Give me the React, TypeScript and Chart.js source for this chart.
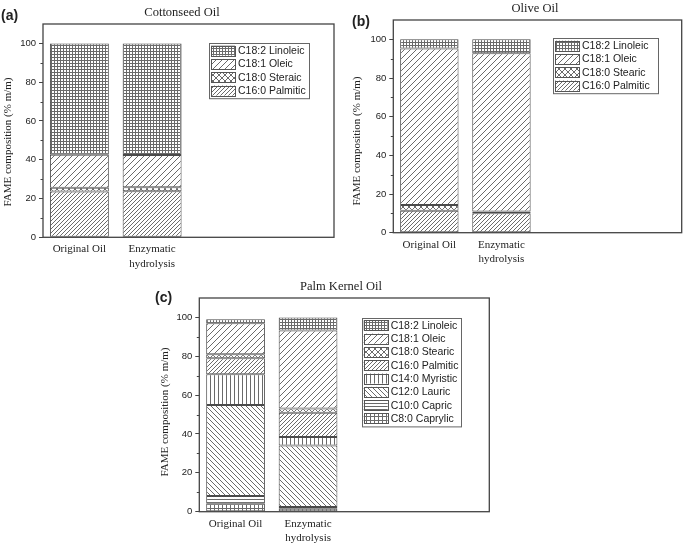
import React, { useEffect, useRef } from 'react';
import { Chart, registerables } from 'chart.js';
Chart.register(...registerables);

// ---------- data ----------
const categories: (string | string[])[] = ['Original Oil', ['Enzymatic', 'hydrolysis'], '', ''];
const yTicks = [0, 20, 40, 60, 80, 100];
const yMinorTicks = [10, 30, 50, 70, 90];

// (a) Cottonseed Oil
const cottonPalmitic = [23.6, 23.8];
const cottonStearic = [2.0, 2.0];
const cottonOleic = [17.0, 16.7];
const cottonLinoleic = [57.4, 57.5];

// (b) Olive Oil
const olivePalmitic = [11.4, 10.0];
const oliveStearic = [2.9, 1.0];
const oliveOleic = [81.0, 81.8];
const oliveLinoleic = [4.7, 7.2];

// (c) Palm Kernel Oil
const pkCaprylic = [4.3, 1.5];
const pkCapric = [3.8, 0.9];
const pkLauric = [46.8, 31.7];
const pkMyristic = [15.8, 4.3];
const pkPalmitic = [8.3, 12.5];
const pkStearic = [2.0, 2.2];
const pkOleic = [16.0, 40.2];
const pkLinoleic = [2.0, 6.7];

// ---------- patterns ----------
type Kind = 'grid' | 'gridWide' | 'fwd' | 'fwdDense' | 'back' | 'cross' | 'vert' | 'horiz';

function makePattern(kind: Kind): CanvasPattern | string {
  const sizes: Record<Kind, number> = {
    grid: 3, gridWide: 4, fwd: 6, fwdDense: 4, back: 5, cross: 6, vert: 4, horiz: 3,
  };
  const s = sizes[kind];
  const c = document.createElement('canvas');
  c.width = s;
  c.height = s;
  const g = c.getContext('2d');
  if (!g) return '#fff';
  g.fillStyle = '#fff';
  g.fillRect(0, 0, s, s);
  g.fillStyle = '#6a6a6a';
  g.strokeStyle = '#5a5a5a';
  g.lineWidth = 0.9;
  const fwd = () => {
    g.beginPath();
    g.moveTo(-1, 1); g.lineTo(1, -1);
    g.moveTo(0, s); g.lineTo(s, 0);
    g.moveTo(s - 1, s + 1); g.lineTo(s + 1, s - 1);
    g.stroke();
  };
  const back = () => {
    g.beginPath();
    g.moveTo(0, 0); g.lineTo(s, s);
    g.moveTo(-1, s - 1); g.lineTo(1, s + 1);
    g.moveTo(s - 1, -1); g.lineTo(s + 1, 1);
    g.stroke();
  };
  switch (kind) {
    case 'grid':
    case 'gridWide':
      g.fillRect(0, 0, s, 1);
      g.fillRect(0, 0, 1, s);
      break;
    case 'fwd':
    case 'fwdDense':
      fwd();
      break;
    case 'back':
      back();
      break;
    case 'cross':
      fwd();
      back();
      break;
    case 'vert':
      g.fillRect(0, 0, 1, s);
      break;
    case 'horiz':
      g.fillRect(0, 0, s, 1);
      break;
  }
  return g.createPattern(c, 'repeat') || '#fff';
}

// ---------- panel ----------
interface Series { label: string; data: number[]; kind: Kind }
interface PanelProps {
  left: number; top: number; W: number; H: number;
  area: { left: number; right: number; top: number; bottom: number };
  title: string; titlePos: [number, number];
  tag: string; tagPos: [number, number];
  yTitlePos: [number, number];
  legend: { x: number; y: number; w: number; rowH: number };
  series: Series[];
}

const serif = '"Liberation Serif", "Times New Roman", serif';
const sans = '"Liberation Sans", Arial, sans-serif';

function Panel(p: PanelProps) {
  const ref = useRef<HTMLCanvasElement | null>(null);
  useEffect(() => {
    if (!ref.current) return;
    const decor = {
      id: 'decor',
      afterDraw(chart: any) {
        const ctx: CanvasRenderingContext2D = chart.ctx;
        const a = chart.chartArea;
        const y = chart.scales.y;
        ctx.save();
        // frame
        ctx.strokeStyle = '#444';
        ctx.lineWidth = 1.3;
        ctx.strokeRect(a.left, a.top, a.right - a.left, a.bottom - a.top);
        // minor ticks
        ctx.lineWidth = 1;
        ctx.beginPath();
        yMinorTicks.forEach((v) => {
          const py = Math.round(y.getPixelForValue(v)) + 0.5;
          ctx.moveTo(a.left - 2.5, py);
          ctx.lineTo(a.left, py);
        });
        ctx.stroke();
        // title
        ctx.fillStyle = '#222';
        ctx.textAlign = 'center';
        ctx.textBaseline = 'middle';
        ctx.font = `12.5px ${serif}`;
        ctx.fillText(p.title, p.titlePos[0], p.titlePos[1]);
        // tag
        ctx.textAlign = 'left';
        ctx.font = `bold 14px ${sans}`;
        ctx.fillText(p.tag, p.tagPos[0], p.tagPos[1]);
        // y title
        ctx.save();
        ctx.translate(p.yTitlePos[0], p.yTitlePos[1]);
        ctx.rotate(-Math.PI / 2);
        ctx.textAlign = 'center';
        ctx.font = `11px ${serif}`;
        ctx.fillText('FAME composition (% m/m)', 0, 0);
        ctx.restore();
        // legend
        const lg = p.legend;
        const items = [...chart.data.datasets].reverse();
        const h = items.length * lg.rowH + 2;
        ctx.fillStyle = '#fff';
        ctx.fillRect(lg.x, lg.y, lg.w, h);
        ctx.strokeStyle = '#666';
        ctx.lineWidth = 1;
        ctx.strokeRect(Math.round(lg.x) + 0.5, Math.round(lg.y) + 0.5, lg.w, h);
        items.forEach((ds: any, i: number) => {
          const cy = lg.y + 1 + lg.rowH * (i + 0.5);
          ctx.fillStyle = ds.backgroundColor;
          ctx.fillRect(lg.x + 2, cy - 5, 24, 10);
          ctx.strokeStyle = '#555';
          ctx.strokeRect(Math.round(lg.x + 2) + 0.5, Math.round(cy - 5) + 0.5, 24, 10);
          ctx.fillStyle = '#222';
          ctx.font = `10.5px ${sans}`;
          ctx.textAlign = 'left';
          ctx.textBaseline = 'middle';
          ctx.fillText(ds.label, lg.x + 29, cy + 0.5);
        });
        ctx.restore();
      },
    };
    const chart = new Chart(ref.current, {
      type: 'bar',
      data: {
        labels: categories as any,
        datasets: p.series.map((s) => ({
          label: s.label,
          data: s.data,
          backgroundColor: makePattern(s.kind) as any,
          borderColor: '#4a4a4a',
          borderWidth: 1,
          borderSkipped: false,
          barPercentage: 0.81,
          categoryPercentage: 1,
        })),
      },
      options: {
        responsive: false,
        animation: false,
        layout: { padding: { top: p.area.top, right: p.W - p.area.right, left: 0, bottom: 0 } },
        plugins: { legend: { display: false }, tooltip: { enabled: false }, title: { display: false } },
        scales: {
          x: {
            stacked: true,
            grid: { display: false, drawTicks: false },
            border: { display: false },
            ticks: {
              font: { family: serif, size: 11, lineHeight: 1.3 },
              color: '#222',
              padding: 5,
              maxRotation: 0,
              autoSkip: false,
            },
            afterFit: (s: any) => { s.height = p.H - p.area.bottom; },
          },
          y: {
            stacked: true,
            min: 0,
            max: 110,
            afterBuildTicks: (s: any) => { s.ticks = yTicks.map((v) => ({ value: v })); },
            grid: { display: true, drawOnChartArea: false, drawTicks: true, tickLength: 4, color: '#444' },
            border: { display: false },
            ticks: { font: { family: sans, size: 9.5 }, color: '#222', padding: 3 },
            afterFit: (s: any) => { s.width = p.area.left; },
          },
        },
      },
      plugins: [decor],
    } as any);
    return () => chart.destroy();
  }, []);
  return (
    <canvas
      ref={ref}
      width={p.W}
      height={p.H}
      style={{ position: 'absolute', left: p.left, top: p.top, width: p.W, height: p.H }}
    />
  );
}

export default function App() {
  return (
    <div style={{ position: 'absolute', left: 0, top: 0, width: 685, height: 543, background: '#fff' }}>
      <Panel
        left={0} top={0} W={340} H={272}
        area={{ left: 43, right: 334, top: 24, bottom: 237.3 }}
        title="Cottonseed Oil" titlePos={[182, 12.5]}
        tag="(a)" tagPos={[1, 16]}
        yTitlePos={[8, 142]}
        legend={{ x: 209, y: 43, w: 100, rowH: 13.3 }}
        series={[
          { label: 'C16:0 Palmitic', data: cottonPalmitic, kind: 'fwdDense' },
          { label: 'C18:0 Steraic', data: cottonStearic, kind: 'cross' },
          { label: 'C18:1 Oleic', data: cottonOleic, kind: 'fwd' },
          { label: 'C18:2 Linoleic', data: cottonLinoleic, kind: 'grid' },
        ]}
      />
      <Panel
        left={340} top={0} W={345} H={272}
        area={{ left: 53.3, right: 341.7, top: 20, bottom: 232.7 }}
        title="Olive Oil" titlePos={[195, 8.5]}
        tag="(b)" tagPos={[12, 22]}
        yTitlePos={[17, 141]}
        legend={{ x: 213, y: 38, w: 105, rowH: 13.3 }}
        series={[
          { label: 'C16:0 Palmitic', data: olivePalmitic, kind: 'fwdDense' },
          { label: 'C18:0 Stearic', data: oliveStearic, kind: 'cross' },
          { label: 'C18:1 Oleic', data: oliveOleic, kind: 'fwd' },
          { label: 'C18:2 Linoleic', data: oliveLinoleic, kind: 'grid' },
        ]}
      />
      <Panel
        left={150} top={280} W={380} H={263}
        area={{ left: 49.3, right: 339.3, top: 18, bottom: 231.7 }}
        title="Palm Kernel Oil" titlePos={[191, 7]}
        tag="(c)" tagPos={[5, 18]}
        yTitlePos={[15, 132]}
        legend={{ x: 211.7, y: 37.7, w: 99, rowH: 13.3 }}
        series={[
          { label: 'C8:0 Caprylic', data: pkCaprylic, kind: 'gridWide' },
          { label: 'C10:0 Capric', data: pkCapric, kind: 'horiz' },
          { label: 'C12:0 Lauric', data: pkLauric, kind: 'back' },
          { label: 'C14:0 Myristic', data: pkMyristic, kind: 'vert' },
          { label: 'C16:0 Palmitic', data: pkPalmitic, kind: 'fwdDense' },
          { label: 'C18:0 Stearic', data: pkStearic, kind: 'cross' },
          { label: 'C18:1 Oleic', data: pkOleic, kind: 'fwd' },
          { label: 'C18:2 Linoleic', data: pkLinoleic, kind: 'grid' },
        ]}
      />
    </div>
  );
}
